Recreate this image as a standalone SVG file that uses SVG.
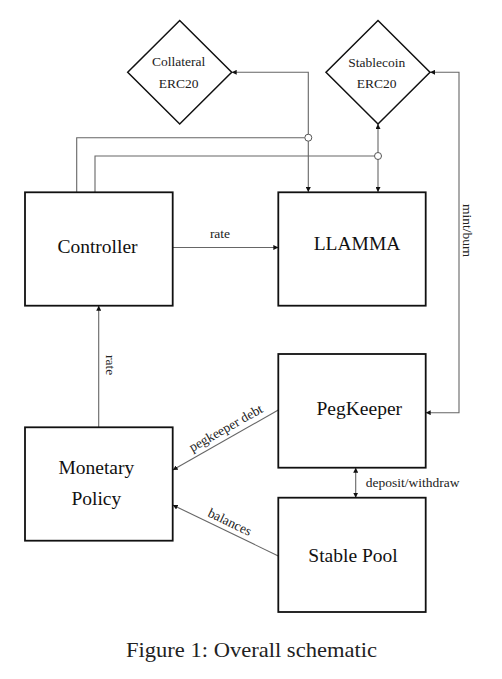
<svg xmlns="http://www.w3.org/2000/svg" width="502" height="679" viewBox="0 0 502 679">
<style>
.box{fill:#fff;stroke:#111;stroke-width:1.8}
.dia{fill:#fff;stroke:#111;stroke-width:1.5}
.con{fill:none;stroke:#666;stroke-width:1.1}
.jump{fill:#fff;stroke:#555;stroke-width:1}
.lbl{font-family:"Liberation Serif","Times New Roman",serif;font-size:19.5px;fill:#111;text-anchor:middle}
.sm{font-family:"Liberation Serif","Times New Roman",serif;font-size:13.5px;fill:#222;text-anchor:middle}
.cap{font-family:"Liberation Serif","Times New Roman",serif;font-size:22px;fill:#222;text-anchor:middle}
</style>
<defs>
<marker id="arr" viewBox="0 0 6 6" refX="6" refY="3" markerWidth="5" markerHeight="5" markerUnits="userSpaceOnUse" orient="auto-start-reverse">
<path d="M0,0 L6,3 L0,6 z" fill="#111"/>
</marker>
</defs>
<rect width="502" height="679" fill="#fff"/>
<g id="connectors">
<path class="con" d="M172.7,247.5 H278.3" marker-end="url(#arr)"/>
<path class="con" d="M231.7,72.3 H308.3 V192" marker-start="url(#arr)" marker-end="url(#arr)"/>
<path class="con" d="M378,124 V192" marker-start="url(#arr)" marker-end="url(#arr)"/>
<path class="con" d="M430,72.3 H459 V412.7 H425.7" marker-start="url(#arr)" marker-end="url(#arr)"/>
<path class="con" d="M76.7,192 V137.7 H304.8"/>
<circle class="jump" cx="308.3" cy="137.7" r="3.5"/>
<path class="con" d="M95,192 V156 H374.5"/>
<circle class="jump" cx="378" cy="156" r="3.5"/>
<path class="con" d="M98.7,427.3 V305.7" marker-end="url(#arr)"/>
<path class="con" d="M278.3,410 L172.7,470" marker-end="url(#arr)"/>
<path class="con" d="M278.3,556 L172.7,505" marker-end="url(#arr)"/>
<path class="con" d="M355.7,467.7 V497.7" marker-start="url(#arr)" marker-end="url(#arr)"/>
<text class="sm" x="220" y="238.3">rate</text>
<text class="sm" transform="translate(106,365) rotate(90)">rate</text>
<text class="sm" transform="translate(463,230.5) rotate(90)">mint/burn</text>
<text class="sm" x="412.7" y="486.5">deposit/withdraw</text>
<text class="sm" transform="translate(225.75,440) rotate(-29.4)" x="6" y="-6">pegkeeper debt</text>
<text class="sm" transform="translate(225.75,530.5) rotate(25.6)" y="-5">balances</text>
</g>
<g id="collateral">
<polygon class="dia" points="179.7,20.5 231.7,72.3 179.7,124 127.7,72.3"/>
<text class="sm" x="178.7" y="66">Collateral</text>
<text class="sm" x="178.7" y="87.5">ERC20</text>
</g>
<g id="stablecoin">
<polygon class="dia" points="378,20.5 430,72.3 378,124 326,72.3"/>
<text class="sm" x="376.7" y="66.5">Stablecoin</text>
<text class="sm" x="376.7" y="88">ERC20</text>
</g>
<g id="controller">
<rect class="box" x="25" y="192.3" width="147.7" height="113.4"/>
<text class="lbl" x="97.5" y="252.7">Controller</text>
</g>
<g id="llamma">
<rect class="box" x="278.3" y="192.3" width="147.4" height="113.4"/>
<text class="lbl" x="357" y="250">LLAMMA</text>
</g>
<g id="pegkeeper">
<rect class="box" x="278.3" y="354" width="147.4" height="113.7"/>
<text class="lbl" x="359.3" y="415">PegKeeper</text>
</g>
<g id="monetary">
<rect class="box" x="25" y="427.3" width="147.7" height="113.4"/>
<text class="lbl" x="96.3" y="474">Monetary</text>
<text class="lbl" x="96.3" y="505">Policy</text>
</g>
<g id="stablepool">
<rect class="box" x="278.3" y="497.7" width="147.4" height="114.3"/>
<text class="lbl" x="353" y="562">Stable Pool</text>
</g>
<text class="cap" x="251.5" y="657" textLength="251" lengthAdjust="spacingAndGlyphs">Figure 1: Overall schematic</text>
</svg>
